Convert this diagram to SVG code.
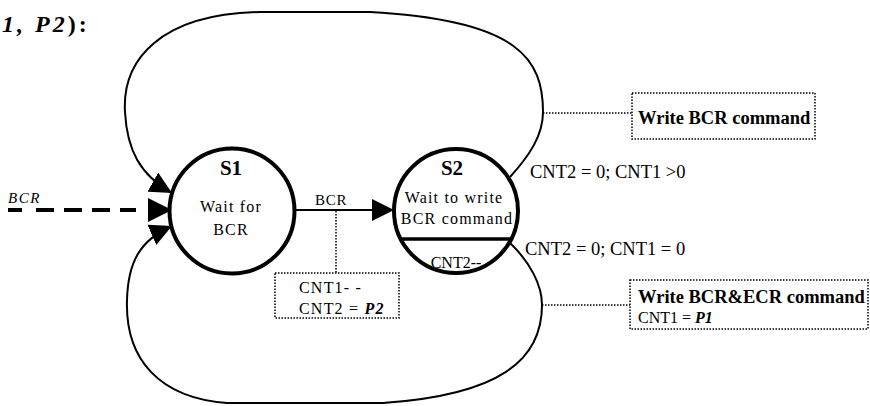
<svg xmlns="http://www.w3.org/2000/svg" width="870" height="406" viewBox="0 0 870 406">
<style>
text{font-family:"Liberation Serif","Times New Roman",serif;fill:#000}
.st{font-size:16px;letter-spacing:1.2px}
.lbl{font-size:18.5px}
.sm{font-size:16px}
.state{fill:#fff;stroke:#000;stroke-width:4}
.conn{fill:none;stroke:#000;stroke-width:2}
.dot{fill:none;stroke:#000;stroke-width:1.5;stroke-dasharray:1.5 1.5}
</style>
<defs>
<marker id="ah" viewBox="0 0 10 10" refX="10" refY="5" markerWidth="22" markerHeight="22" markerUnits="userSpaceOnUse" orient="auto"><path d="M0,0 L10,5 L0,10 z" fill="#000"/></marker>
<marker id="ahb" viewBox="0 0 10 10" refX="10" refY="5" markerWidth="24" markerHeight="24" markerUnits="userSpaceOnUse" orient="auto"><path d="M0,0 L10,5 L0,10 z" fill="#000"/></marker>
</defs>
<text x="2" y="32" font-size="24" font-weight="bold" letter-spacing="3"><tspan font-style="italic">1, P2</tspan>):</text>
<g id="connectors">
<path class="conn" d="M510,177 C530,155 543,135 543,112 C543,60 520,20 370,12 L260,12 C160,14 122,60 125,112 C127,150 140,175 172,193" marker-end="url(#ah)"/>
<path class="conn" d="M510,243 C530,262 542,285 542,305 C542,360 500,395 383,403 L227,403 C160,398 125,360 127,300 C128,262 140,240 172,226" marker-end="url(#ah)"/>
<path d="M8,210 H172" fill="none" stroke="#000" stroke-width="4" stroke-dasharray="14 14 18 10 18 10 18 10 16 40" marker-end="url(#ahb)"/>
<path class="conn" d="M295,210 H394" marker-end="url(#ah)"/>
<path class="dot" d="M336,211 V273"/>
<path class="dot" d="M543,113 H632"/>
<path class="dot" d="M542,305 H630"/>
<text x="8" y="203" font-size="15" font-style="italic" letter-spacing="1.5">BCR</text>
<text x="315" y="205" font-size="15" letter-spacing="0.8">BCR</text>
<text class="lbl" x="530" y="178">CNT2 = 0; CNT1 &gt;0</text>
<text class="lbl" x="525" y="255">CNT2 = 0; CNT1 = 0</text>
</g>
<g id="S1">
<circle class="state" cx="232" cy="211" r="62.5"/>
<text x="231" y="175" font-size="21" font-weight="bold" text-anchor="middle">S1</text>
<text class="st" x="231" y="212" text-anchor="middle">Wait for</text>
<text class="st" x="231" y="235" text-anchor="middle">BCR</text>
</g>
<g id="S2">
<circle class="state" cx="456" cy="211" r="62"/>
<line x1="401" y1="239" x2="511" y2="239" stroke="#000" stroke-width="3.5"/>
<text x="452" y="175" font-size="21" font-weight="bold" text-anchor="middle">S2</text>
<text class="st" x="454" y="203" text-anchor="middle" letter-spacing="1.3">Wait to write</text>
<text class="st" x="457" y="224" text-anchor="middle" letter-spacing="1.3">BCR command</text>
<text class="sm" x="456" y="268" text-anchor="middle">CNT2--</text>
</g>
<g id="action-bcr">
<rect class="dot" x="275" y="273" width="124" height="45"/>
<text class="st" x="299" y="293">CNT1- -</text>
<text class="st" x="299" y="314">CNT2 = <tspan font-weight="bold" font-style="italic">P2</tspan></text>
</g>
<g id="action-write-bcr">
<rect class="dot" x="632" y="93" width="183" height="46"/>
<text x="638" y="124" font-size="18.5" font-weight="bold">Write BCR command</text>
</g>
<g id="action-write-bcr-ecr">
<rect class="dot" x="630" y="280" width="238" height="49"/>
<text x="638" y="303" font-size="18.5" font-weight="bold">Write BCR&amp;ECR command</text>
<text class="sm" x="638" y="323">CNT1 = <tspan font-weight="bold" font-style="italic">P1</tspan></text>
</g>
</svg>
